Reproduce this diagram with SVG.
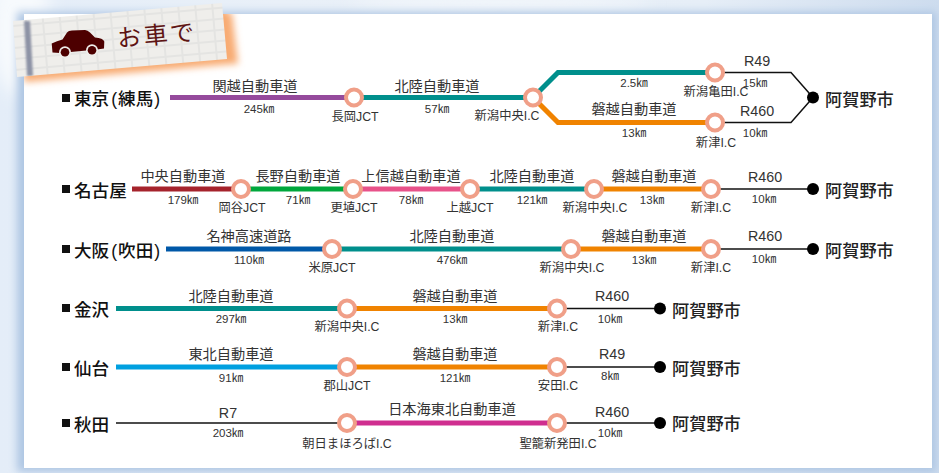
<svg xmlns="http://www.w3.org/2000/svg" width="939" height="473" viewBox="0 0 939 473">
<style>
text{font-family:"Liberation Sans","Noto Sans CJK JP",sans-serif;fill:#333}
.rd{font-size:14.2px;text-anchor:middle}
.km{font-size:11.5px;text-anchor:middle}
.st{font-size:12.3px;text-anchor:middle}
.rt{font-size:14.3px;text-anchor:middle}
.org{font-size:17.6px;font-weight:500;fill:#111}
.dst{font-size:17.2px;font-weight:500;fill:#222}
.l{fill:none;stroke-width:5}
.k{fill:none;stroke:#111;stroke-width:1.5}
.jn{fill:#fff;stroke:#f09f88;stroke-width:4}
</style>
<defs>
<linearGradient id="bg" x1="0" y1="0" x2="1" y2="0"><stop offset="0" stop-color="#e4edf8"/><stop offset="0.3" stop-color="#e9f0f8"/><stop offset="0.75" stop-color="#e6eef7"/><stop offset="1" stop-color="#cddcee"/></linearGradient>
<filter id="blur" x="-10%" y="-10%" width="120%" height="120%"><feGaussianBlur stdDeviation="4"/></filter>
<filter id="blur2" x="-20%" y="-20%" width="140%" height="140%"><feGaussianBlur stdDeviation="3.5"/></filter>
<filter id="blur3" x="-30%" y="-30%" width="160%" height="160%"><feGaussianBlur stdDeviation="1.2"/></filter>
<filter id="blur4" x="-30%" y="-30%" width="160%" height="160%"><feGaussianBlur stdDeviation="9"/></filter>
<clipPath id="panel"><rect x="24" y="14" width="908" height="454"/></clipPath>
<clipPath id="tapeclip"><polygon points="13,21 222,3 227,59 17,77"/></clipPath>
<pattern id="grid" width="17" height="11" patternUnits="userSpaceOnUse" patternTransform="rotate(-5)"><rect width="17" height="11" fill="#efeeeb"/><path d="M0 5H17M7 0V11" stroke="#e4e4e2" stroke-width="2"/></pattern>
</defs>
<rect width="939" height="473" fill="url(#bg)"/>
<ellipse cx="20" cy="25" rx="30" ry="70" fill="#f7fafd" filter="url(#blur4)"/>
<ellipse cx="500" cy="4" rx="150" ry="7" fill="#f6f9fc" filter="url(#blur4)"/>
<rect x="17" y="12" width="919" height="460" fill="#aec6e3" filter="url(#blur)"/>
<rect x="24" y="14" width="908" height="454" fill="#fff"/>

<g id="title">
<g clip-path="url(#panel)"><polygon points="24,82 232,64 238,64 232,14 222,8 24,30" fill="#f8ab72" filter="url(#blur2)"/></g>
<polygon points="13,21 222,3 227,59 17,77" fill="url(#grid)"/>
<g clip-path="url(#tapeclip)"><polygon points="24,21 30,21 33,76 27,76" fill="#8d93a5" filter="url(#blur3)"/></g>
<path d="M52.500 52.500 L51.700 43.500 Q57 41 62.500 39.500 L67 32.500 Q68.500 30.500 72 30.500 L85 30 Q87.500 30 90 32.500 L95 37.500 Q103 38 104.300 41.500 L104 48.500 L97 49.500 L60 53 Z" fill="#4d0000"/>
<circle cx="65" cy="52.300" r="6" fill="#efeeeb"/><circle cx="92" cy="50.300" r="6" fill="#efeeeb"/>
<circle cx="65" cy="52.300" r="4.300" fill="#4d0000"/><circle cx="92" cy="50.300" r="4.300" fill="#4d0000"/>
<text x="118" y="47" transform="rotate(-5 118 47)" style="font-size:24px;fill:#5e1414;letter-spacing:2.500px">お車で</text>
</g>

<g id="connectors">
<path class="l" stroke="#954a9c" d="M170 97.500H354"/>
<path class="l" stroke="#008f8c" d="M354 97.500H533"/>
<path class="l" stroke="#008f8c" d="M533 97.500L558 72.500H715"/>
<path class="l" stroke="#f08300" d="M533 97.500L558 122.500H715"/>
<path class="k" d="M715 72.500H791L813 97.500L791 122.500H715"/>
<path class="l" stroke="#a5232c" d="M132 189H241"/>
<path class="l" stroke="#00a73c" d="M241 189H353"/>
<path class="l" stroke="#e8528a" d="M353 189H470"/>
<path class="l" stroke="#008f8c" d="M470 189H594"/>
<path class="l" stroke="#f08300" d="M594 189H711"/>
<path class="k" d="M711 189H813"/>
<path class="l" stroke="#0058a8" d="M166 249H332"/>
<path class="l" stroke="#008f8c" d="M332 249H571"/>
<path class="l" stroke="#f08300" d="M571 249H711"/>
<path class="k" d="M711 249H813"/>
<path class="l" stroke="#008f8c" d="M116 308.500H347"/>
<path class="l" stroke="#f08300" d="M347 308.500H557"/>
<path class="k" d="M557 308.500H660"/>
<path class="l" stroke="#00a0e0" d="M116 367H347"/>
<path class="l" stroke="#f08300" d="M347 367H557"/>
<path class="k" d="M557 367H660"/>
<path class="k" d="M116 423H347"/>
<path class="l" stroke="#cf2e8f" d="M347 423H557"/>
<path class="k" d="M557 423H660"/>
</g>

<g id="labels">
<text class="rd" x="255" y="91">関越自動車道</text><text class="km" x="259" y="113">245㎞</text>
<text class="rd" x="437" y="91">北陸自動車道</text><text class="km" x="437" y="113">57㎞</text>
<text class="km" x="634" y="87">2.5㎞</text>
<text class="rd" x="634" y="114">磐越自動車道</text><text class="km" x="634" y="137">13㎞</text>
<text class="rt" x="757" y="66">R49</text><text class="km" x="755" y="87">15㎞</text>
<text class="rt" x="757" y="116">R460</text><text class="km" x="755" y="137">10㎞</text>

<text class="rd" x="183" y="181">中央自動車道</text><text class="km" x="183" y="204">179㎞</text>
<text class="rd" x="298" y="181">長野自動車道</text><text class="km" x="298" y="204">71㎞</text>
<text class="rd" x="411" y="181">上信越自動車道</text><text class="km" x="411" y="204">78㎞</text>
<text class="rd" x="532" y="181">北陸自動車道</text><text class="km" x="532" y="204">121㎞</text>
<text class="rd" x="654" y="181">磐越自動車道</text><text class="km" x="652" y="204">13㎞</text>
<text class="rt" x="765" y="182">R460</text><text class="km" x="764" y="203">10㎞</text>

<text class="rd" x="249" y="241">名神高速道路</text><text class="km" x="249" y="264">110㎞</text>
<text class="rd" x="452" y="241">北陸自動車道</text><text class="km" x="452" y="264">476㎞</text>
<text class="rd" x="644" y="241">磐越自動車道</text><text class="km" x="644" y="264">13㎞</text>
<text class="rt" x="765" y="241">R460</text><text class="km" x="764" y="263">10㎞</text>

<text class="rd" x="231" y="301">北陸自動車道</text><text class="km" x="231" y="323">297㎞</text>
<text class="rd" x="455" y="301">磐越自動車道</text><text class="km" x="455" y="323">13㎞</text>
<text class="rt" x="612" y="301">R460</text><text class="km" x="610" y="323">10㎞</text>

<text class="rd" x="231" y="359">東北自動車道</text><text class="km" x="231" y="382">91㎞</text>
<text class="rd" x="455" y="359">磐越自動車道</text><text class="km" x="455" y="382">121㎞</text>
<text class="rt" x="612" y="359">R49</text><text class="km" x="610" y="380">8㎞</text>

<text class="rt" x="228" y="418">R7</text><text class="km" x="228" y="437">203㎞</text>
<text class="rd" x="452" y="414">日本海東北自動車道</text>
<text class="rt" x="612" y="417">R460</text><text class="km" x="610" y="437">10㎞</text>
</g>

<g id="origin-tokyo"><rect x="62" y="94" width="8" height="8" fill="#111"/><text class="org" x="74" y="105">東京<tspan dx="2">(</tspan><tspan dx="1">練馬</tspan><tspan dx="1">)</tspan></text></g>
<g id="origin-nagoya"><rect x="62" y="185" width="8" height="8" fill="#111"/><text class="org" x="74" y="197">名古屋</text></g>
<g id="origin-osaka"><rect x="62" y="245" width="8" height="8" fill="#111"/><text class="org" x="74" y="257">大阪<tspan dx="2">(</tspan><tspan dx="1">吹田</tspan><tspan dx="1">)</tspan></text></g>
<g id="origin-kanazawa"><rect x="62" y="304" width="8" height="8" fill="#111"/><text class="org" x="74" y="316">金沢</text></g>
<g id="origin-sendai"><rect x="62" y="363" width="8" height="8" fill="#111"/><text class="org" x="74" y="375">仙台</text></g>
<g id="origin-akita"><rect x="62" y="419" width="8" height="8" fill="#111"/><text class="org" x="74" y="431">秋田</text></g>

<g id="j-nagaoka"><circle class="jn" cx="354" cy="97.500" r="8"/><text class="st" x="355" y="121">長岡JCT</text></g>
<g id="j-niigatachuo1"><circle class="jn" cx="533" cy="97.500" r="8"/><text class="st" x="507" y="120">新潟中央I.C</text></g>
<g id="j-kameda"><circle class="jn" cx="715" cy="72.500" r="8"/><text class="st" x="716" y="96">新潟亀田I.C</text></g>
<g id="j-tsugawa1"><circle class="jn" cx="715" cy="122.500" r="8"/><text class="st" x="716" y="147">新津I.C</text></g>
<g id="j-okaya"><circle class="jn" cx="241" cy="189" r="8"/><text class="st" x="242" y="212">岡谷JCT</text></g>
<g id="j-koshoku"><circle class="jn" cx="353" cy="189" r="8"/><text class="st" x="354" y="212">更埴JCT</text></g>
<g id="j-joetsu"><circle class="jn" cx="470" cy="189" r="8"/><text class="st" x="470" y="212">上越JCT</text></g>
<g id="j-niigatachuo2"><circle class="jn" cx="594" cy="189" r="8"/><text class="st" x="595" y="212">新潟中央I.C</text></g>
<g id="j-tsugawa2"><circle class="jn" cx="711" cy="189" r="8"/><text class="st" x="711" y="212">新津I.C</text></g>
<g id="j-maibara"><circle class="jn" cx="332" cy="249" r="8"/><text class="st" x="332" y="272">米原JCT</text></g>
<g id="j-niigatachuo3"><circle class="jn" cx="571" cy="249" r="8"/><text class="st" x="572" y="272">新潟中央I.C</text></g>
<g id="j-tsugawa3"><circle class="jn" cx="711" cy="249" r="8"/><text class="st" x="711" y="272">新津I.C</text></g>
<g id="j-niigatachuo4"><circle class="jn" cx="347" cy="308.500" r="8"/><text class="st" x="347" y="331">新潟中央I.C</text></g>
<g id="j-tsugawa4"><circle class="jn" cx="557" cy="308.500" r="8"/><text class="st" x="558" y="331">新津I.C</text></g>
<g id="j-koriyama"><circle class="jn" cx="347" cy="367" r="8"/><text class="st" x="347" y="390">郡山JCT</text></g>
<g id="j-yasuda"><circle class="jn" cx="557" cy="367" r="8"/><text class="st" x="558" y="390">安田I.C</text></g>
<g id="j-asahi"><circle class="jn" cx="347" cy="423" r="8"/><text class="st" x="347" y="448">朝日まほろばI.C</text></g>
<g id="j-seiro"><circle class="jn" cx="557" cy="423" r="8"/><text class="st" x="558" y="448">聖籠新発田I.C</text></g>

<g id="dest-1"><circle cx="813" cy="97.500" r="6" fill="#000"/><text class="dst" x="825" y="106">阿賀野市</text></g>
<g id="dest-2"><circle cx="813" cy="189" r="6" fill="#000"/><text class="dst" x="825" y="197">阿賀野市</text></g>
<g id="dest-3"><circle cx="813" cy="249" r="6" fill="#000"/><text class="dst" x="825" y="257">阿賀野市</text></g>
<g id="dest-4"><circle cx="660" cy="308.500" r="6" fill="#000"/><text class="dst" x="672" y="317">阿賀野市</text></g>
<g id="dest-5"><circle cx="660" cy="367" r="6" fill="#000"/><text class="dst" x="672" y="375">阿賀野市</text></g>
<g id="dest-6"><circle cx="660" cy="423" r="6" fill="#000"/><text class="dst" x="672" y="430">阿賀野市</text></g>
</svg>
